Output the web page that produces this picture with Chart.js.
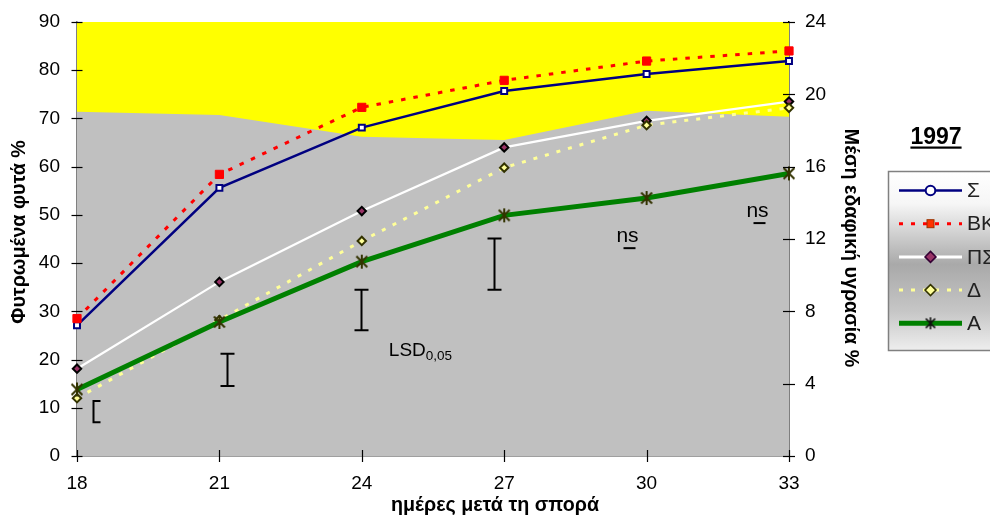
<!DOCTYPE html>
<html>
<head>
<meta charset="utf-8">
<script src="https://cdn.jsdelivr.net/npm/chart.js@4/dist/chart.umd.min.js"></script>
<style>
html,body{margin:0;padding:0;background:#fff;}
#wrap{width:990px;height:521px;position:relative;}
</style>
</head>
<body>
<div id="wrap"><canvas id="c" width="990" height="521"></canvas></div>
<script>
// ---------- data ----------
const days = [18, 21, 24, 27, 30, 33];
const seriesNames = ['Σ', 'ΒΚ', 'ΠΣ', 'Δ', 'Α'];
const sigma = [27.1, 55.6, 68.1, 75.7, 79.2, 81.9];
const bk    = [28.5, 58.4, 72.3, 77.9, 81.9, 84.0];
const ps    = [18.1, 36.1, 50.8, 64.0, 69.5, 73.5];
const delta = [12.0, 28.2, 44.6, 59.8, 68.6, 72.2];
const alpha = [13.8, 27.8, 40.3, 49.9, 53.5, 58.6];
const soilMoisture = [19.04, 18.86, 17.65, 17.47, 19.09, 18.76];
const lsdDays = [18.34, 21.16, 23.98, 26.78, 29.62, 32.37];
const lsdLow  = [7.0, 14.5, 26.1, 34.5, 43.1, 48.3];
const lsdHigh = [11.4, 21.2, 34.5, 45.1, 43.1, 48.3];
const lsdNote = ['', '', '', '', 'ns', 'ns'];
const yearTitle = '1997';
const leftTitle = 'Φυτρωμένα φυτά %';
const rightTitle = 'Μέση εδαφική υγρασία %';
const xTitle = 'ημέρες μετά τη σπορά';
const lsdTitle = 'LSD';
const lsdSub = '0,05';

const FONT = "'Liberation Sans', Arial, Helvetica, sans-serif";
Chart.defaults.font.family = FONT;
Chart.defaults.color = '#000';

function pts(arr){ return days.map((d,i)=>({x:d, y:arr[i]})); }

function makeStar(size, color, lw){
  const c = document.createElement('canvas');
  c.width = size; c.height = size;
  const g = c.getContext('2d');
  g.strokeStyle = color; g.lineWidth = lw;
  const m = size/2, r = size/2 - 1;
  g.beginPath();
  g.moveTo(m, m - r); g.lineTo(m, m + r);
  g.moveTo(m - r*0.78, m - r*0.78); g.lineTo(m + r*0.78, m + r*0.78);
  g.moveTo(m + r*0.78, m - r*0.78); g.lineTo(m - r*0.78, m + r*0.78);
  g.stroke();
  return c;
}
const starImg = makeStar(16, '#333300', 2);
const starLegend = makeStar(14, '#111', 1.6);

const datasets = [
  { label: seriesNames[0], data: pts(sigma), yAxisID:'y', borderColor:'#000080', borderWidth:2.5,
    pointStyle:'rect', pointRadius:4.2, pointBackgroundColor:'#fff', pointBorderColor:'#000080', pointBorderWidth:2, order:5 },
  { label: seriesNames[1], data: pts(bk), yAxisID:'y', borderColor:'#FF0000', borderWidth:3, borderDash:[4.5,8],
    pointStyle:'rect', pointRadius:5.8, pointBackgroundColor:'#FF0000', pointBorderColor:'#FF0000', pointBorderWidth:1, order:4 },
  { label: seriesNames[2], data: pts(ps), yAxisID:'y', borderColor:'#FFFFFF', borderWidth:2.2,
    pointStyle:'rectRot', pointRadius:4.2, pointBackgroundColor:'#993366', pointBorderColor:'#000', pointBorderWidth:2, order:3 },
  { label: seriesNames[3], data: pts(delta), yAxisID:'y', borderColor:'#FFFF99', borderWidth:3, borderDash:[4,8],
    pointStyle:'rectRot', pointRadius:4.2, pointBackgroundColor:'#FFFF99', pointBorderColor:'#333300', pointBorderWidth:2, order:2 },
  { label: seriesNames[4], data: pts(alpha), yAxisID:'y', borderColor:'#008000', borderWidth:5,
    pointStyle:starImg, pointRadius:8, order:1 },
  { label: 'soil', data: pts(soilMoisture), yAxisID:'y2', borderWidth:0, borderColor:'#C0C0C0',
    backgroundColor:'#C0C0C0', fill:'origin', pointRadius:0, order:10 }
];
datasets.forEach(d=>{ d.clip = false; d.tension = 0; if(d.fill===undefined) d.fill = false; });

const legendStyle = [
  {line:'#000080', w:2.5, dash:[], marker:'circle', fill:'#fff', stroke:'#000080', lw:2},
  {line:'#FF0000', w:3, dash:[4,8], marker:'square', fill:'#FF3300', stroke:'#993300', lw:1},
  {line:'#FFFFFF', w:3, dash:[], marker:'diamond', fill:'#993366', stroke:'#330033', lw:1.5},
  {line:'#FFFF99', w:3, dash:[4,8], marker:'diamond', fill:'#FFFF99', stroke:'#333300', lw:1.5},
  {line:'#008000', w:5, dash:[], marker:'star'}
];

const bgPlugin = {
  id:'bg',
  beforeDatasetsDraw(chart){
    const {ctx, chartArea:a} = chart;
    ctx.save(); ctx.fillStyle = '#FFFF00';
    ctx.fillRect(a.left, a.top, a.right-a.left, a.bottom-a.top);
    ctx.restore();
  }
};

const lsdPlugin = {
  id:'lsd',
  afterDatasetsDraw(chart){
    const {ctx} = chart;
    const xs = chart.scales.x, ys = chart.scales.y;
    ctx.save();
    ctx.strokeStyle = '#000'; ctx.lineWidth = 2;
    lsdDays.forEach((d,i)=>{
      const x = Math.round(xs.getPixelForValue(d)) + 0.5;
      const y1 = ys.getPixelForValue(lsdHigh[i]);
      const y2 = ys.getPixelForValue(lsdLow[i]);
      ctx.beginPath();
      if (lsdNote[i]) {
        ctx.moveTo(x-6, y1); ctx.lineTo(x+6, y1);
      } else if (i === 0) {
        ctx.moveTo(x+7, y1); ctx.lineTo(x, y1); ctx.lineTo(x, y2); ctx.lineTo(x+7, y2);
      } else {
        ctx.moveTo(x-7, y1); ctx.lineTo(x+7, y1);
        ctx.moveTo(x, y1); ctx.lineTo(x, y2);
        ctx.moveTo(x-7, y2); ctx.lineTo(x+7, y2);
      }
      ctx.stroke();
      if (lsdNote[i]) {
        ctx.fillStyle = '#000';
        ctx.font = '21px ' + FONT;
        ctx.textAlign = 'center'; ctx.textBaseline = 'alphabetic';
        ctx.fillText(lsdNote[i], x - 2, y1 - 6);
      }
    });
    const lx = xs.getPixelForValue(lsdDays[2]) + 28;
    const ly = ys.getPixelForValue(lsdLow[2]) + 26;
    ctx.fillStyle = '#000'; ctx.textAlign = 'left'; ctx.textBaseline = 'alphabetic';
    ctx.font = '19px ' + FONT;
    ctx.fillText(lsdTitle, lx, ly);
    const w = ctx.measureText(lsdTitle).width;
    ctx.font = '13.5px ' + FONT;
    ctx.fillText(lsdSub, lx + w, ly + 4);
    ctx.restore();
  }
};

const decoPlugin = {
  id:'deco',
  afterDraw(chart){
    const {ctx, chartArea:a} = chart;
    const xs = chart.scales.x, ys = chart.scales.y, y2s = chart.scales.y2;
    ctx.save();
    ctx.strokeStyle = '#000'; ctx.lineWidth = 1.2;
    ys.ticks.forEach(t=>{ const p = Math.round(ys.getPixelForValue(t.value))+0.5;
      ctx.beginPath(); ctx.moveTo(a.left-5.5, p); ctx.lineTo(a.left+5.5, p); ctx.stroke(); });
    y2s.ticks.forEach(t=>{ const p = Math.round(y2s.getPixelForValue(t.value))+0.5;
      ctx.beginPath(); ctx.moveTo(a.right-6, p); ctx.lineTo(a.right+6, p); ctx.stroke(); });
    xs.ticks.forEach(t=>{ const p = Math.round(xs.getPixelForValue(t.value))+0.5;
      ctx.beginPath(); ctx.moveTo(p, a.bottom-6); ctx.lineTo(p, a.bottom+6); ctx.stroke(); });

    ctx.fillStyle = '#000';
    ctx.font = 'bold 19.7px ' + FONT;
    ctx.textAlign = 'center'; ctx.textBaseline = 'middle';
    ctx.save(); ctx.translate(20, 232); ctx.rotate(-Math.PI/2); ctx.fillText(leftTitle, 0, 0); ctx.restore();
    ctx.save(); ctx.translate(850, 248); ctx.rotate(Math.PI/2); ctx.fillText(rightTitle, 0, 0); ctx.restore();
    ctx.fillText(xTitle, 495, 506);

    ctx.font = 'bold 23px ' + FONT;
    ctx.textBaseline = 'alphabetic';
    ctx.fillText(yearTitle, 936, 144);
    const yw = ctx.measureText(yearTitle).width;
    ctx.fillRect(936 - yw/2, 146.5, yw, 2.2);

    const L = 888.5, T = 171.5, B = 350.5, R = 1000;
    const grad = ctx.createLinearGradient(0, T, 0, B);
    grad.addColorStop(0, '#ffffff');
    grad.addColorStop(0.18, '#f6f6f6');
    grad.addColorStop(0.52, '#a9a9a9');
    grad.addColorStop(0.78, '#c6c6c6');
    grad.addColorStop(1, '#eeeeee');
    ctx.fillStyle = grad;
    ctx.fillRect(L, T, R-L, B-T);
    ctx.strokeStyle = '#808080'; ctx.lineWidth = 1.5;
    ctx.strokeRect(L, T, R-L, B-T);

    const names = chart.data.datasets.slice(0,5).map(d=>d.label);
    names.forEach((name,i)=>{
      const s = legendStyle[i];
      const cy = 190.5 + i*33.2;
      ctx.save();
      ctx.strokeStyle = s.line; ctx.lineWidth = s.w; ctx.setLineDash(s.dash);
      ctx.beginPath(); ctx.moveTo(899, cy); ctx.lineTo(962, cy); ctx.stroke();
      ctx.setLineDash([]);
      const mx = 930.5;
      if (s.marker === 'circle') {
        ctx.beginPath(); ctx.arc(mx, cy, 4.8, 0, Math.PI*2);
        ctx.fillStyle = s.fill; ctx.fill(); ctx.strokeStyle = s.stroke; ctx.lineWidth = s.lw; ctx.stroke();
      } else if (s.marker === 'square') {
        ctx.fillStyle = s.fill; ctx.fillRect(mx-3.5, cy-4, 7, 8);
        ctx.strokeStyle = s.stroke; ctx.lineWidth = s.lw; ctx.strokeRect(mx-3.5, cy-4, 7, 8);
      } else if (s.marker === 'diamond') {
        ctx.beginPath(); ctx.moveTo(mx, cy-5.5); ctx.lineTo(mx+5.5, cy); ctx.lineTo(mx, cy+5.5); ctx.lineTo(mx-5.5, cy); ctx.closePath();
        ctx.fillStyle = s.fill; ctx.fill(); ctx.strokeStyle = s.stroke; ctx.lineWidth = s.lw; ctx.stroke();
      } else {
        ctx.drawImage(starLegend, mx-7, cy-7);
      }
      ctx.fillStyle = '#222'; ctx.font = '21px ' + FONT;
      ctx.textAlign = 'left'; ctx.textBaseline = 'middle';
      ctx.fillText(name, 967, cy + 1);
      ctx.restore();
    });
    ctx.restore();
  }
};

new Chart(document.getElementById('c'), {
  type: 'line',
  data: { datasets },
  options: {
    responsive: false,
    animation: false,
    events: [],
    layout: { padding: { top: 22, right: 121, bottom: 0, left: 0 } },
    plugins: { legend: { display: false }, tooltip: { enabled: false } },
    scales: {
      x: {
        type: 'linear', position: 'bottom', min: 18, max: 33,
        ticks: { stepSize: 3, padding: 0, font: { size: 19 }, color: '#000' },
        grid: { display: false, drawTicks: true, tickLength: 16 },
        border: { display: true, color: '#404040', width: 1.5 },
        afterFit: s => { s.height = 65; }
      },
      y: {
        type: 'linear', position: 'left', min: 0, max: 90,
        ticks: { stepSize: 10, padding: 0, font: { size: 19 }, color: '#000' },
        grid: { display: false, drawTicks: true, tickLength: 17 },
        border: { display: true, color: '#808080', width: 1.5 },
        afterFit: s => { s.width = 77; }
      },
      y2: {
        type: 'linear', position: 'right', min: 0, max: 24,
        ticks: { stepSize: 4, padding: 0, font: { size: 19 }, color: '#000' },
        grid: { display: false, drawTicks: true, tickLength: 16 },
        border: { display: true, color: '#000', width: 1.5 },
        afterFit: s => { s.width = 80; }
      }
    }
  },
  plugins: [bgPlugin, lsdPlugin, decoPlugin]
});
</script>
</body>
</html>
